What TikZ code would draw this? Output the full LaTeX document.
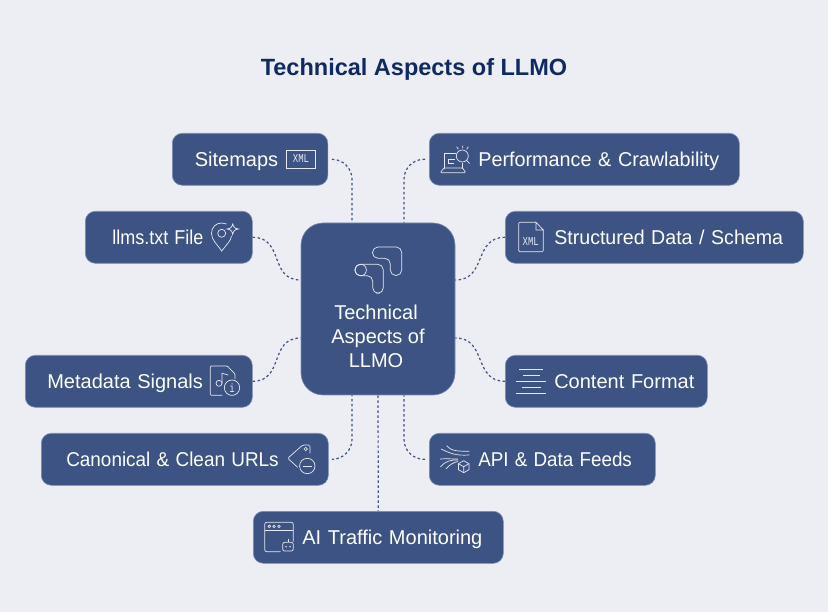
\documentclass[tikz,border=0pt]{standalone}
\usepackage{fontspec}
\usepackage{graphicx}
\usepackage{xcolor}
\setmainfont{Liberation Sans}
\newfontfamily\xmlfont[FakeStretch=0.75]{Liberation Mono}
\definecolor{pagebg}{HTML}{ECEEF4}
\definecolor{boxblue}{HTML}{3D5383}
\definecolor{boxedge}{HTML}{7D8EB4}
\definecolor{titleblue}{HTML}{0F2A63}
\definecolor{iconline}{HTML}{E6E9F2}
\tikzset{
  topic/.style={draw=boxedge,fill=boxblue,text=white,rounded corners=10pt,line width=0.6pt,
    anchor=north west,minimum height=52pt,inner xsep=0pt,inner ysep=0pt,text width=#1,align=left,
    text height=16.5pt,text depth=2.5pt,font=\fontsize{20}{24}\selectfont},
  hubbox/.style={draw=boxedge,fill=boxblue,text=white,rounded corners=22pt,line width=0.6pt,
    minimum width=154pt,minimum height=172pt,inner sep=0pt,align=center,font=\fontsize{20}{24}\selectfont},
  link/.style={draw=boxblue,line width=1.2pt,dash pattern=on 2.5pt off 2.5pt},
  icon/.style={draw=iconline,line width=0.7pt},
  icontext/.style={text=iconline,inner sep=0pt,font=\xmlfont\fontsize{12}{12}\selectfont}
}
\begin{document}
\begin{tikzpicture}[x=1pt,y=-1pt]
\useasboundingbox (0,0) rectangle (828,612);
\fill[pagebg] (0,0) rectangle (828,612);
\node[text=titleblue,inner sep=0pt,font=\fontsize{23.5}{28}\selectfont\bfseries] (title) at (414,69) {Technical Aspects of LLMO};
% boxes
\node[hubbox] (hub) at (378,309) {\rule{0pt}{70pt}Technical\hspace*{4pt}\\Aspects of\hspace*{4pt}\\LLMO\hspace*{4pt}};
\node[topic=155.5pt] (sitemaps) at (172,133) {\hspace*{22.5pt}Sitemaps};
\node[topic=310pt] (perf) at (429,133) {\hspace*{49pt}\scalebox{.99}[1]{Performance \& Crawlability}};
\node[topic=167pt] (llms) at (85,211) {\hspace*{27pt}\scalebox{.9}[1]{llms.txt File}};
\node[topic=298pt] (schema) at (505,211) {\hspace*{49pt}\scalebox{.98}[1]{Structured Data / Schema}};
\node[topic=227pt] (meta) at (25,355) {\hspace*{22pt}Metadata Signals};
\node[topic=202pt] (content) at (505,355) {\hspace*{49pt}Content Format};
\node[topic=287pt] (canon) at (41,433) {\hspace*{25pt}\scalebox{.946}[1]{Canonical \& Clean URLs}};
\node[topic=226pt] (feeds) at (429,433) {\hspace*{49pt}\scalebox{.94}[1]{API \& Data Feeds}};
\node[topic=250pt] (traffic) at (253,511) {\hspace*{49pt}AI Traffic Monitoring};
% links
\draw[link,rounded corners=20pt,shorten <=4pt] (sitemaps.east) -| ([xshift=-26pt]hub.north);
\draw[link,rounded corners=20pt,shorten <=4pt] (perf.west) -| ([xshift=26pt]hub.north);
\draw[link,rounded corners=20pt,shorten <=4pt] (canon.east) -| ([xshift=-26pt]hub.south);
\draw[link,rounded corners=20pt,shorten <=4pt] (feeds.west) -| ([xshift=26pt]hub.south);
\draw[link] (llms.east) .. controls +(32,0) and +(-32,0) .. ([yshift=29pt]hub.west);
\draw[link] (meta.east) .. controls +(32,0) and +(-32,0) .. ([yshift=-29pt]hub.west);
\draw[link] (schema.west) .. controls +(-32,0) and +(32,0) .. ([yshift=29pt]hub.east);
\draw[link] (content.west) .. controls +(-32,0) and +(32,0) .. ([yshift=-29pt]hub.east);
\draw[link] (hub.south) -- (traffic.north);
% hub icon
\draw[icon,rounded corners=5.5pt] (372.5,247) -- (401.7,247) -- (401.7,275.5) -- (390.3,275.5) -- (390.3,258.3) -- (372.5,258.3) -- cycle;
\draw[icon,rounded corners=5.5pt] (355,264.3) -- (383.3,264.3) -- (383.3,293.3) -- (372.7,293.3) -- (372.7,275.7) -- (355,275.7) -- cycle;
\draw[icon] (360.7,270) circle (5.7);
% sitemaps icon
\draw[icon] (286.7,150) rectangle (315.7,168);
\node[icontext] (xmlone) at (301,159) {XML};
% performance icon
\draw[icon] (444,168) -- (444,153.3) -- (456,153.3);
\draw[icon] (462.7,163.5) -- (462.7,168);
\draw[icon,rounded corners=1pt] (444,168) -- (440.3,172.7) -- (465.7,172.7) -- (462.7,168) -- cycle;
\draw[icon] (448.5,159.5) -- (455,159.5) (448.5,159.5) -- (448.5,163) -- (454,163);
\draw[icon] (462.3,156) circle (6);
\draw[icon] (466.6,160.3) -- (469.5,163.5);
\draw[icon] (456.7,146.7) -- (458.3,149.3) (462.7,145.7) -- (462.7,148.3) (468.3,146.7) -- (466.7,149.3);
% llms icon
\draw[icon] (226.5,224) .. controls (225,223.3) and (223.5,223) .. (221.7,223) .. controls (216,223) and (211.5,227) .. (211.5,233.5) .. controls (211.5,240) and (217,244) .. (221.7,251) .. controls (226,245) and (231,241) .. (231.5,236);
\draw[icon] (221.7,233.3) circle (4);
\draw[icon] (232.7,223.5) .. controls (233.3,227) and (234.5,228.5) .. (238.5,229) .. controls (234.5,229.5) and (233.3,231) .. (232.7,234.5) .. controls (232.1,231) and (231,229.5) .. (227,229) .. controls (231,228.5) and (232.1,227) .. (232.7,223.5);
% schema icon
\draw[icon,rounded corners=1pt] (536,222.3) -- (518.7,222.3) -- (518.7,251.7) -- (543.3,251.7) -- (543.3,230);
\draw[icon] (536,222.3) -- (543.3,230) -- (536,230) -- cycle;
\node[icontext] (xmltwo) at (530.7,241.7) {XML};
% metadata icon
\draw[icon,rounded corners=1pt] (222.3,395.3) -- (210.3,395.3) -- (210.3,366) -- (227.3,366) -- (235,374) -- (235,379);
\draw[icon] (219,383.3) circle (3);
\draw[icon] (222,383.3) -- (222,373.3) -- (228.3,375);
\draw[icon] (232,387.7) circle (7.7);
\node[icontext] (infoletter) at (232,387.7) {i};
% content icon
\draw[icon] (519,369) -- (543.3,369) (523,375) -- (540,375) (516,381.3) -- (545.7,381.3) (522,387.3) -- (541,387.3) (516,393.3) -- (545.7,393.3);
% canonical icon
\draw[icon,rounded corners=1.5pt] (297.7,467.3) -- (287.7,458.3) -- (302.7,445) -- (310,445) -- (310,453.3);
\draw[icon] (305.7,449) circle (1.7);
\draw[icon] (307.3,466) circle (7.7);
\draw[icon] (303.3,466) -- (311.7,466);
% feeds icon
\draw[icon] (446.7,445.7) .. controls (452,452) and (460,451) .. (469.3,451.3);
\draw[icon] (441,449) .. controls (450,453) and (455,456) .. (469.3,455);
\draw[icon] (440,459) .. controls (447,458.5) and (451,459) .. (458,459);
\draw[icon] (440.5,467) .. controls (445,461) and (452,459.5) .. (458,460);
\draw[icon] (446,469) .. controls (449,465) and (454,462) .. (458,461.5);
\draw[icon] (463.7,460.7) -- (469,463.7) -- (469,469.7) -- (463.7,472.7) -- (458.4,469.7) -- (458.4,463.7) -- cycle;
\draw[icon] (458.4,463.7) -- (463.7,466.7) -- (469,463.7) (463.7,466.7) -- (463.7,472.7);
% traffic icon
\draw[icon,rounded corners=2pt] (293.3,541.7) -- (293.3,522.3) -- (264.7,522.3) -- (264.7,551.7) -- (280.7,551.7);
\draw[icon] (264.7,530.7) -- (293.3,530.7);
\draw[icon] (269.3,526.3) circle (1.3) (274,526.3) circle (1.3) (279,526.3) circle (1.3);
\draw[icon,rounded corners=2pt] (282.7,542.3) rectangle (293.3,551);
\draw[icon] (288,539) -- (288,542.3);
\fill[iconline] (286,546.7) circle (0.8) (290,546.7) circle (0.8);
\end{tikzpicture}
\end{document}
